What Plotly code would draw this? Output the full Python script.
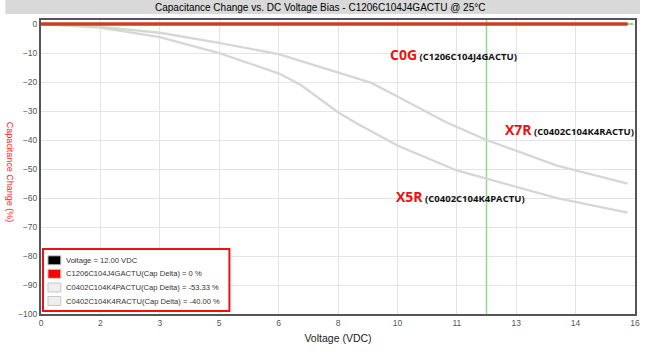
import numpy as np
import plotly.graph_objects as go

# ---- data ----
x7r_v = [0, 1.6, 3.2, 4.8, 6.4, 8.0, 8.9, 9.6, 10.3, 10.9, 12.0, 13.9, 15.8]
x7r_c = [0, -1.0, -3.0, -6.5, -10.4, -16.6, -20.3, -25.0, -29.8, -33.8, -40.0, -48.8, -55.0]

x5r_v = [0, 1.6, 3.2, 4.8, 6.4, 7.0, 8.0, 8.5, 9.6, 10.9, 11.2, 12.0, 13.9, 15.8]
x5r_c = [0, -1.2, -4.5, -10.0, -17.0, -21.0, -30.4, -34.2, -41.9, -48.8, -50.5, -53.33, -60.0, -65.0]

c0g_v = [0, 15.8]
c0g_c = [0, 0]

bias_voltage = 12.0

y_ticks = [0, -10, -20, -30, -40, -50, -60, -70, -80, -90, -100]
x_tick_labels = ["0", "2", "3", "5", "6", "8", "10", "11", "13", "14", "16"]

legend_names = [
    "Voltage = 12.00 VDC",
    "C1206C104J4GACTU(Cap Delta) = 0 %",
    "C0402C104K4PACTU(Cap Delta) = -53.33 %",
    "C0402C104K4RACTU(Cap Delta) = -40.00 %",
]
legend_colors = ["#000000", "#ff0000", "#eeeeee", "#eeeeee"]

W, H = 650, 354
ML, MR, MT, MB = 41, 10, 20, 40
ph = H - MT - MB
pw = W - ML - MR


def px(xpix):
    return (xpix - ML) / pw


def py(ypix):
    return (H - MB - ypix) / ph


fig = go.Figure()

fig.add_trace(go.Scatter(x=[0, 15.95], y=[0, 0], mode="lines",
                         line=dict(color="#8fd88f", width=2), showlegend=False, hoverinfo="skip"))
fig.add_trace(go.Scatter(x=[bias_voltage, bias_voltage], y=[-100, 1.4], mode="lines",
                         line=dict(color="#8fd88f", width=1.5), showlegend=False, hoverinfo="skip"))
fig.add_trace(go.Scatter(x=x5r_v, y=x5r_c, mode="lines", line=dict(color="#d6d6d6", width=2.3),
                         showlegend=False))
fig.add_trace(go.Scatter(x=x7r_v, y=x7r_c, mode="lines", line=dict(color="#d6d6d6", width=2.3),
                         showlegend=False))
fig.add_trace(go.Scatter(x=c0g_v, y=c0g_c, mode="lines", line=dict(color="#c8401f", width=3.5),
                         showlegend=False))

fig.update_layout(
    width=W, height=H,
    margin=dict(l=ML, r=MR, t=MT, b=MB),
    paper_bgcolor="white", plot_bgcolor="white",
    font=dict(family="Arial, Liberation Sans, sans-serif", size=9, color="#555555"),
    showlegend=False,
    xaxis=dict(range=[0, 16], tickvals=list(np.linspace(0, 16, 11)), ticktext=x_tick_labels,
               showgrid=True, gridcolor="#e4e4e4", gridwidth=1, zeroline=False,
               showline=True, linecolor="#555555", linewidth=2, mirror=True, ticks="",
               title=dict(text="Voltage (VDC)", font=dict(size=10.5, color="#222222"), standoff=7),
               tickfont=dict(size=8.5, color="#555555")),
    yaxis=dict(range=[-100, 1.4], tickvals=y_ticks,
               showgrid=True, gridcolor="#e4e4e4", gridwidth=1, zeroline=False,
               showline=True, linecolor="#555555", linewidth=2, mirror=True, ticks="",
               tickfont=dict(size=8.5, color="#555555")),
)

# y-axis title (reads top to bottom)
fig.add_annotation(xref="paper", yref="paper", x=px(10), y=py(172), textangle=90,
                   text="Capacitance Change (%)", showarrow=False,
                   font=dict(size=9, color="#ff2020"), xanchor="center", yanchor="middle")

# title band
fig.add_shape(type="rect", xref="paper", yref="paper",
              x0=px(5), x1=px(645), y0=py(14), y1=py(0),
              fillcolor="#d9d9d9", line=dict(width=0), layer="below")
fig.add_annotation(xref="paper", yref="paper", x=px(322), y=py(7),
                   text="Capacitance Change vs. DC Voltage Bias - C1206C104J4GACTU @ 25°C",
                   showarrow=False, font=dict(size=10, color="#000000"), xanchor="center", yanchor="middle")

# legend box
fig.add_shape(type="rect", xref="paper", yref="paper",
              x0=px(43), x1=px(231), y0=py(311), y1=py(249),
              fillcolor="white", line=dict(color="#ee1111", width=2))
entry_y = [260.3, 273.8, 287.5, 301.0]
for name, col, ey in zip(legend_names, legend_colors, entry_y):
    fig.add_shape(type="rect", xref="paper", yref="paper",
                  x0=px(48), x1=px(61), y0=py(ey + 4.5), y1=py(ey - 4.5),
                  fillcolor=col, line=dict(color="#c8c8c8", width=1))
    fig.add_annotation(xref="paper", yref="paper", x=px(64), y=py(ey), text=name,
                       showarrow=False, xanchor="left", yanchor="middle",
                       font=dict(size=7.6, color="#333333"))


def label(x, y, big, small):
    fig.add_annotation(x=x, y=y, xref="x", yref="y", xanchor="left", yanchor="middle",
                       showarrow=False,
                       text=f"<b><span style='font-size:14px;color:#ee1111'>{big}</span>"
                            f"<span style='font-size:9.5px;color:#111111'> ({small})</span></b>",
                       font=dict(family="Open Sans, Arial, sans-serif"))


label(9.35, -10.5, "C0G", "C1206C104J4GACTU")
label(12.45, -36.5, "X7R", "C0402C104K4RACTU")
label(9.5, -59.5, "X5R", "C0402C104K4PACTU")

fig.write_html("out.html")
